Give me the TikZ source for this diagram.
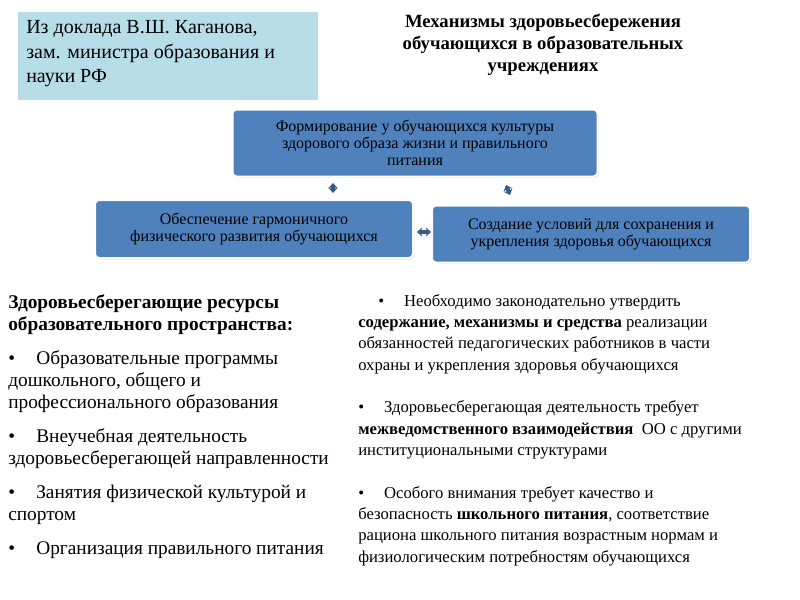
\documentclass[tikz,border=0pt]{standalone}
\usepackage{fontspec}
\setmainfont{Liberation Serif}
\usetikzlibrary{arrows.meta,shadows}
\definecolor{boxblue}{HTML}{4F81BD}
\definecolor{lblue}{HTML}{B7DDE8}
\tikzset{
 bbox/.style={draw=white,line width=1.5pt,fill=boxblue,rounded corners=3pt,text=black,align=center,font=\fontsize{12}{13}\selectfont,drop shadow={opacity=0.25,shadow xshift=1pt,shadow yshift=-1pt}},
 link/.style={draw=boxblue!70!black,line width=3pt,{Stealth[length=4pt,width=7pt]}-{Stealth[length=4pt,width=7pt]}},
 txt/.style={anchor=north west,align=left,inner sep=0pt}
}
\begin{document}
\begin{tikzpicture}[x=0.75pt,y=-0.75pt]
\useasboundingbox (0,0) rectangle (800,600);
\fill[white] (0,0) rectangle (800,600);
\node[fill=lblue,minimum width=300*0.75pt,minimum height=88*0.75pt,anchor=north west,inner sep=0pt] (src) at (18,12) {};
\node[txt,font=\fontsize{15}{18.5}\selectfont] (srct) at (26,20) {Из доклада В.Ш. Каганова,\\зам. министра образования и\\науки РФ};
\node[align=center,font=\bfseries\fontsize{14}{16.5}\selectfont] (title) at (543,45) {Механизмы здоровьесбережения\\обучающихся в образовательных\\учреждениях};
\node[bbox,minimum width=365*0.75pt,minimum height=67*0.75pt] (top) at (415,143) {Формирование у обучающихся культуры\\здорового образа жизни и правильного\\питания};
\node[bbox,minimum width=318*0.75pt,minimum height=58*0.75pt] (left) at (254,229) {Обеспечение гармоничного\\физического развития обучающихся};
\node[bbox,minimum width=318*0.75pt,minimum height=57*0.75pt] (right) at (591,234) {Создание условий для сохранения и\\укрепления здоровья обучающихся};
\coordinate (a1) at (333,183); \coordinate (a2) at (333,193);
\coordinate (b1) at (506,185); \coordinate (b2) at (510,195);
\coordinate (c1) at (417,232); \coordinate (c2) at (431,232);
\draw[link] (a1) -- (a2);
\draw[link] (b1) -- (b2);
\draw[link] (c1) -- (c2);
\node[txt,font=\fontsize{14.5}{16.5}\selectfont] (lt) at (8,294) {%
\textbf{Здоровьесберегающие ресурсы}\\\textbf{образовательного пространства:}\\[9pt]
•\hspace{1.1em}Образовательные программы\\дошкольного, общего и\\профессионального образования\\[9pt]
•\hspace{1.1em}Внеучебная деятельность\\здоровьесберегающей направленности\\[9pt]
•\hspace{1.1em}Занятия физической культурой и\\спортом\\[9pt]
•\hspace{1.1em}Организация правильного питания};
\node[txt,font=\fontsize{12.5}{16}\selectfont] (rt) at (358,294) {%
\hspace{1.2em}•\hspace{1.2em}Необходимо законодательно утвердить\\\textbf{содержание, механизмы и средства} реализации\\обязанностей педагогических работников в части\\охраны и укрепления здоровья обучающихся\\[16pt]
•\hspace{1.2em}Здоровьесберегающая деятельность требует\\\textbf{межведомственного взаимодействия}\ \ ОО с другими\\институциональными структурами\\[16pt]
•\hspace{1.2em}Особого внимания требует качество и\\безопасность \textbf{школьного питания}, соответствие\\рациона школьного питания возрастным нормам и\\физиологическим потребностям обучающихся};
\end{tikzpicture}
\end{document}
